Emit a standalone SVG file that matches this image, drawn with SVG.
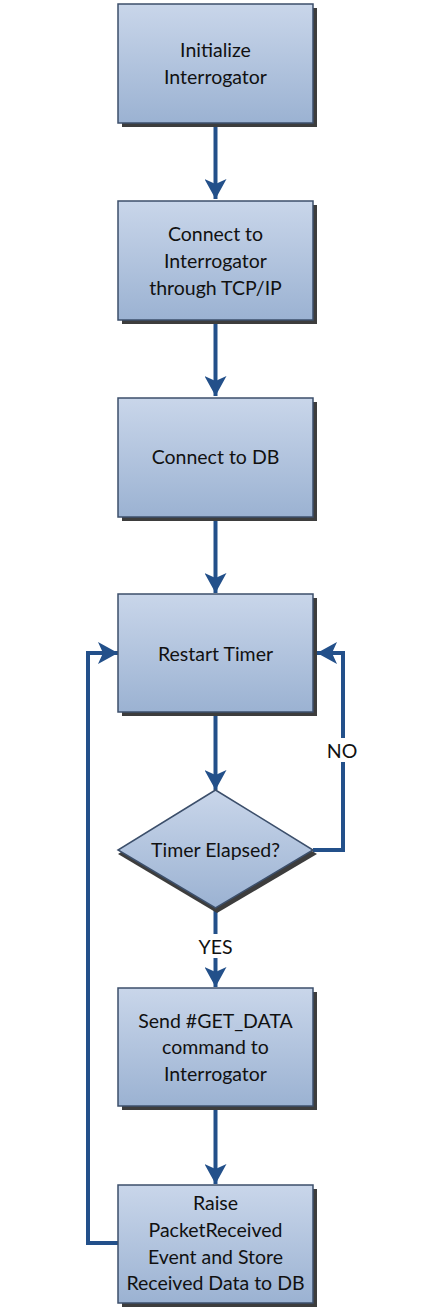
<svg xmlns="http://www.w3.org/2000/svg" width="430" height="1310" viewBox="0 0 430 1310">
<style>
.box{fill:url(#g);stroke:#3c4f6b;stroke-width:1.5}
.sh{fill:#3d3d3d}
.t{font-family:Lato,"Liberation Sans",sans-serif;font-size:19.5px;fill:#111;text-anchor:middle;dominant-baseline:central}
.c{fill:none;stroke:#23508a;stroke-width:4}
</style>
<defs>
<linearGradient id="g" x1="0" y1="0" x2="0" y2="1">
<stop offset="0" stop-color="#c9d6ea"/>
<stop offset="1" stop-color="#9bb2d2"/>
</linearGradient>
<marker id="a" markerUnits="userSpaceOnUse" markerWidth="24" markerHeight="22" refX="20" refY="11" orient="auto">
<path d="M0,0 L20,11 L0,22 L5,11 Z" fill="#23508a"/>
</marker>
</defs>
<g id="connectors">
<line class="c" x1="215.5" y1="124" x2="215.5" y2="199" marker-end="url(#a)"/>
<line class="c" x1="215.5" y1="320" x2="215.5" y2="396" marker-end="url(#a)"/>
<line class="c" x1="215.5" y1="517" x2="215.5" y2="593" marker-end="url(#a)"/>
<line class="c" x1="215.5" y1="713" x2="215.5" y2="790" marker-end="url(#a)"/>
<polyline class="c" points="313,850 343,850 343,653 317,653" marker-end="url(#a)"/>
<line class="c" x1="215.5" y1="909" x2="215.5" y2="987" marker-end="url(#a)"/>
<line class="c" x1="215.5" y1="1106" x2="215.5" y2="1184" marker-end="url(#a)"/>
<polyline class="c" points="118,1243 88,1243 88,653 118,653" marker-end="url(#a)"/>
<rect x="324" y="738" width="38" height="24" fill="#fff"/>
<text class="t" x="342" y="750">NO</text>
<rect x="194" y="934" width="44" height="24" fill="#fff"/>
<text class="t" x="215.5" y="946">YES</text>
</g>
<g id="n1"><rect class="sh" x="122" y="8" width="195" height="119"/><rect class="box" x="118" y="4" width="195" height="119"/><text class="t" x="215.5" y="49">Initialize</text><text class="t" x="215.5" y="76">Interrogator</text></g>
<g id="n2"><rect class="sh" x="122" y="205" width="195" height="119"/><rect class="box" x="118" y="201" width="195" height="119"/><text class="t" x="215.5" y="233">Connect to</text><text class="t" x="215.5" y="260">Interrogator</text><text class="t" x="215.5" y="287">through TCP/IP</text></g>
<g id="n3"><rect class="sh" x="122" y="402" width="195" height="119"/><rect class="box" x="118" y="398" width="195" height="119"/><text class="t" x="215.5" y="456">Connect to DB</text></g>
<g id="n4"><rect class="sh" x="122" y="598" width="195" height="118"/><rect class="box" x="118" y="594" width="195" height="118"/><text class="t" x="215.5" y="653">Restart Timer</text></g>
<g id="n5"><polygon class="sh" points="217,794 317,854 217,913 118,854"/><polygon class="box" points="215.5,790 313,850 215.5,908 118,850"/><text class="t" x="215.5" y="849">Timer Elapsed?</text></g>
<g id="n6"><rect class="sh" x="122" y="992" width="195" height="118"/><rect class="box" x="118" y="988" width="195" height="118"/><text class="t" x="215.5" y="1020">Send #GET_DATA</text><text class="t" x="215.5" y="1046">command to</text><text class="t" x="215.5" y="1073">Interrogator</text></g>
<g id="n7"><rect class="sh" x="122" y="1189" width="195" height="118"/><rect class="box" x="118" y="1185" width="195" height="118"/><text class="t" x="215.5" y="1202">Raise</text><text class="t" x="215.5" y="1229">PacketReceived</text><text class="t" x="215.5" y="1256">Event and Store</text><text class="t" x="215.5" y="1282">Received Data to DB</text></g>
</svg>
